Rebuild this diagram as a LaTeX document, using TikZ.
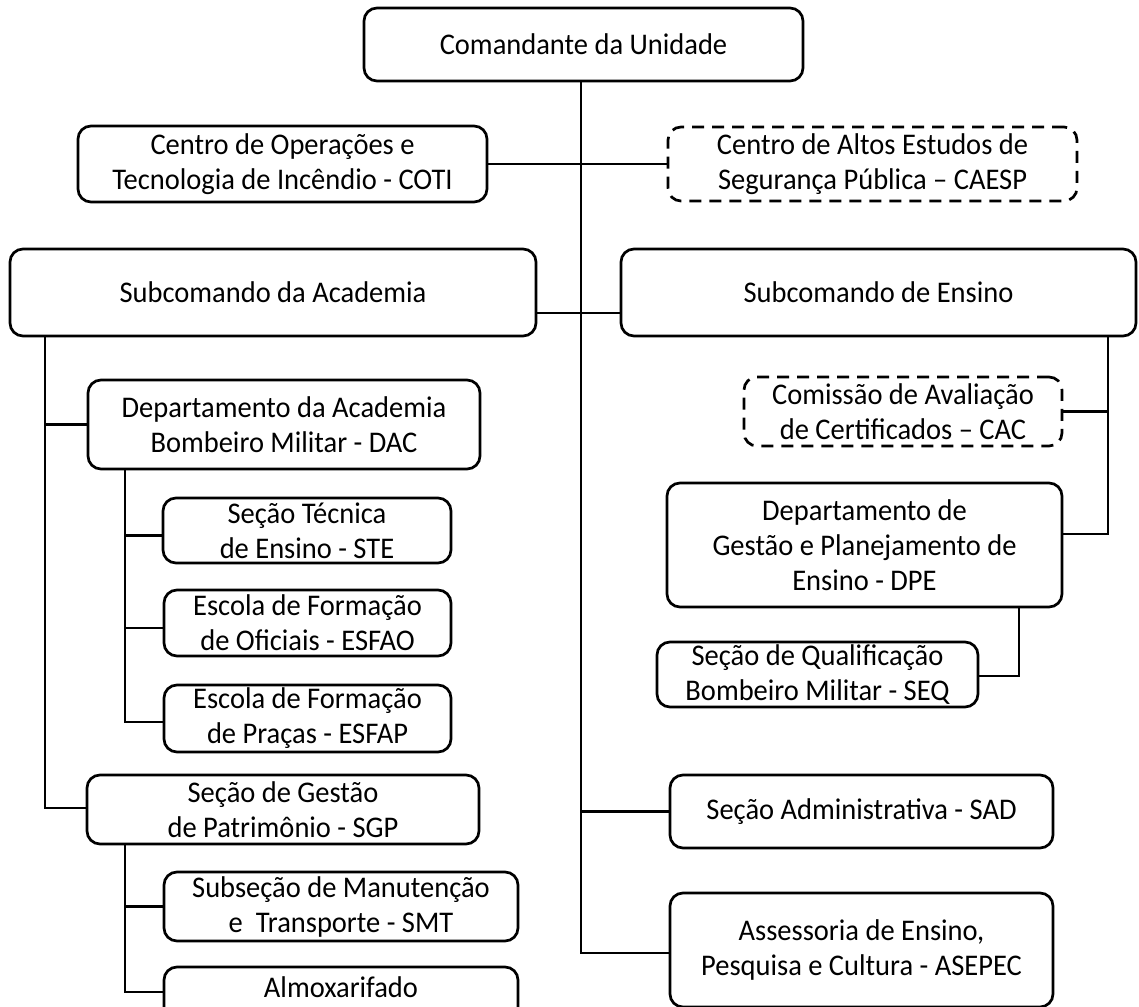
\documentclass[tikz,border=0pt]{standalone}
\usepackage{fontspec}
\setmainfont{Carlito}[FakeStretch=0.95]
\usetikzlibrary{calc}
\begin{document}
\begin{tikzpicture}[x=1pt,y=-1pt,
  box/.style={draw=black, line width=2.7pt, rounded corners=13pt, align=center,
    inner sep=0pt, font=\fontsize{30}{35}\selectfont},
  dbox/.style={box, dash pattern=on 12pt off 8pt},
  link/.style={draw=black, line width=2.7pt}]
\useasboundingbox (0,0) rectangle (1139,1006);
\clip (0,0) rectangle (1139,1006);
% nodes
\node[box, minimum width=439pt, minimum height=73pt] (cmd) at (583.5,44.5) {Comandante da Unidade};
\node[box, minimum width=409pt, minimum height=76pt] (coti) at (282.5,164) {Centro de Operações e\\Tecnologia de Incêndio - COTI};
\node[dbox, minimum width=409pt, minimum height=74pt] (caesp) at (872.5,164) {Centro de Altos Estudos de\\Segurança Pública – CAESP};
\node[box, minimum width=526pt, minimum height=87pt] (sacad) at (273,292.5) {Subcomando da Academia};
\node[box, minimum width=515pt, minimum height=87pt] (sens) at (878.5,292.5) {Subcomando de Ensino};
\node[box, minimum width=392pt, minimum height=89pt] (dac) at (284,424.5) {Departamento da Academia\\Bombeiro Militar - DAC};
\node[box, minimum width=288pt, minimum height=65pt] (ste) at (307,530.5) {Seção Técnica\\de Ensino - STE};
\node[box, minimum width=287pt, minimum height=66pt] (esfao) at (307.5,623) {Escola de Formação\\de Oficiais - ESFAO};
\node[box, minimum width=287pt, minimum height=67pt] (esfap) at (307.5,718.5) {Escola de Formação\\de Praças - ESFAP};
\node[box, minimum width=392pt, minimum height=69pt] (sgp) at (283,809.5) {Seção de Gestão\\de Patrimônio - SGP};
\node[box, minimum width=354pt, minimum height=69pt] (smt) at (341,906.5) {Subseção de Manutenção\\e\ \ Transporte - SMT};
\node[box, minimum width=354pt, minimum height=70pt, text depth=30pt] (almox) at (341,1002) {Almoxarifado};
\node[dbox, minimum width=318pt, minimum height=69pt] (cac) at (903,411.5) {Comissão de Avaliação\\de Certificados – CAC};
\node[box, minimum width=395pt, minimum height=124pt] (dpe) at (864.5,545) {Departamento de\\Gestão e Planejamento de\\Ensino - DPE};
\node[box, minimum width=321pt, minimum height=65pt] (seq) at (817.5,674.5) {Seção de Qualificação\\Bombeiro Militar - SEQ};
\node[box, minimum width=383pt, minimum height=73pt] (sad) at (861.5,811.5) {Seção Administrativa - SAD};
\node[box, minimum width=383pt, minimum height=114pt] (asepec) at (861.5,950) {Assessoria de Ensino,\\Pesquisa e Cultura - ASEPEC};
% junction coordinates
\coordinate (trunk) at (581,953);
\coordinate (j1) at (581,313);
\coordinate (ax) at (45,808);
\coordinate (dx) at (125,722);
\coordinate (alj) at (125,992);
\coordinate (ex) at (1108,534);
\coordinate (sx) at (1019,676);
% connectors
\draw[link] (cmd.south -| trunk) -- (trunk) -- (trunk -| asepec.west);
\draw[link] (coti.east) -- (coti.east -| trunk);
\draw[link] (caesp.west) -- (caesp.west -| trunk);
\draw[link] (j1 -| sacad.east) -- (j1 -| sens.west);
\draw[link] (ax |- sacad.south) -- (ax) -- (ax -| sgp.west);
\draw[link] (ax |- dac.west) -- (dac.west);
\draw[link] (dx |- dac.south) -- (dx) -- (dx -| esfap.west);
\draw[link] ($(dx |- ste.west)+(0,5)$) -- ($(ste.west)+(0,5)$);
\draw[link] ($(dx |- esfao.west)+(0,5)$) -- ($(esfao.west)+(0,5)$);
\draw[link] (dx |- sgp.south) -- (alj) -- (alj -| almox.west);
\draw[link] (dx |- smt.west) -- (smt.west);
\draw[link] (ex |- sens.south) -- (ex) -- (ex -| dpe.east);
\draw[link] (ex |- cac.east) -- (cac.east);
\draw[link] (sx |- dpe.south) -- (sx) -- (sx -| seq.east);
\draw[link] (trunk |- sad.west) -- (sad.west);
\end{tikzpicture}
\end{document}
